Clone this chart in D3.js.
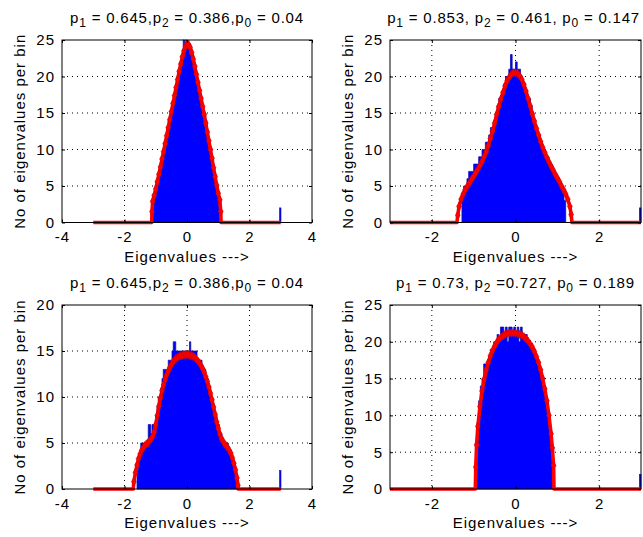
<!DOCTYPE html>
<html><head><meta charset="utf-8">
<script src="https://cdn.jsdelivr.net/npm/d3@7"></script>
<style>
body{margin:0;background:#fff;}
svg text{font-family:"Liberation Sans",Arial,Helvetica,sans-serif;fill:#000;letter-spacing:1px;}
</style></head><body>
<svg id="c" width="643" height="537"></svg>
<script>
// ---------------- DATA ----------------
const titles = [
  "p_1 = 0.645,p_2 = 0.386,p_0 = 0.04",
  "p_1 = 0.853, p_2 = 0.461, p_0 = 0.147",
  "p_1 = 0.645,p_2 = 0.386,p_0 = 0.04",
  "p_1 = 0.73, p_2 =0.727, p_0 = 0.189"
];
const xLabel = "Eigenvalues --->";
const yLabel = "No of eigenvalues per bin";
const xTicksWide = [-4, -2, 0, 2, 4];
const xTicksNarrow = [-2, 0, 2];
const yTicks25 = [0, 5, 10, 15, 20, 25];
const yTicks20 = [0, 5, 10, 15, 20];
const binWidth = 0.04;

// histogram 1 (top-left)
const hist1Start = -1.12;
const hist1Counts = [3,4,4,5,6,6,8,8,9,10,11,12,12,14,14,15,16,17,18,19,19,21,21,22,23,25,24,25,
  24,24,23,23,22,21,21,20,19,18,17,17,16,15,15,14,12,11,10,9,8,7,6,5,4,3,2];
// histogram 2 (top-right)
const hist2Start = -1.28;
const hist2Counts = [4,5,5,6,7,7,7,8,8,8,9,9,10,10,11,11,12,13,13,14,15,16,17,17,18,19,20,20,21,23,21,21,
  22,21,21,20,19,19,18,17,17,16,15,14,13,12,12,11,10,10,9,9,8,8,7,7,6,6,5,5,4,3];
// histogram 3 (bottom-left)
const hist3Start = -1.60;
const hist3Counts = [2,3,4,5,5,5,5,5,5,7,7,6,7,7,7,8,9,10,10,11,12,13,13,13,13,14,14,14,15,16,16,15,15,15,15,15,15,15,15,15,
  15,15,16,15,15,15,15,15,14,14,14,14,13,13,13,12,12,11,11,10,9,9,8,8,7,7,6,6,5,5,5,5,5,4,4,4,3,3,2,1];
// histogram 4 (bottom-right)
const hist4Start = -0.96;
const hist4Counts = [4,9,12,14,15,17,17,17,18,19,19,20,20,21,20,22,22,21,22,20,22,22,21,22,
  21,22,20,22,21,21,21,20,20,19,19,19,18,17,16,15,14,13,12,10,8,6,3];
// isolated outlier bin near x = 3 (one per panel)
const outlierX = [2.98, 2.98, 2.98, 2.98];
const outlierCount = [2, 2, 2, 2];

// fitted density curves [x, y]
const curve1 = [[-3,0],[-1.13,0],[-1.12,1.5],[-1.10,2.9],[-1.05,3.7],[-1.00,4.6],[-0.95,5.6],[-0.90,6.6],[-0.85,7.6],
  [-0.80,8.7],[-0.75,9.7],[-0.70,10.8],[-0.65,11.9],[-0.60,13.0],[-0.55,14.1],[-0.50,15.2],[-0.45,16.3],[-0.40,17.4],
  [-0.35,18.5],[-0.30,19.6],[-0.25,20.7],[-0.20,21.7],[-0.15,22.7],[-0.10,23.5],[-0.05,24.1],[0.00,24.4],[0.05,24.4],
  [0.10,24.0],[0.15,23.3],[0.20,22.4],[0.25,21.4],[0.30,20.3],[0.35,19.2],[0.40,18.1],[0.45,17.0],[0.50,15.9],
  [0.55,14.8],[0.60,13.6],[0.65,12.4],[0.70,11.2],[0.75,10.0],[0.80,8.8],[0.85,7.5],[0.90,6.3],[0.95,5.1],
  [1.00,4.0],[1.05,3.1],[1.08,1.5],[1.09,0],[3,0]];
const curve2 = [[-3,0],[-1.40,0],[-1.38,1.0],[-1.35,2.2],[-1.30,3.2],[-1.25,3.9],[-1.20,4.5],[-1.15,5.0],[-1.10,5.4],
  [-1.05,5.9],[-1.00,6.3],[-0.95,6.8],[-0.90,7.3],[-0.85,7.8],[-0.80,8.4],[-0.75,9.0],[-0.70,9.7],[-0.65,10.5],
  [-0.60,11.5],[-0.55,12.5],[-0.50,13.6],[-0.45,14.8],[-0.40,15.9],[-0.35,16.9],[-0.30,17.8],[-0.25,18.7],[-0.20,19.4],
  [-0.15,19.9],[-0.10,20.3],[-0.05,20.5],[0.00,20.5],[0.05,20.4],[0.10,20.1],[0.15,19.6],[0.20,18.9],[0.25,18.0],
  [0.30,17.0],[0.35,16.0],[0.40,14.9],[0.45,13.9],[0.50,12.9],[0.55,12.0],[0.60,11.1],[0.65,10.3],[0.70,9.6],
  [0.75,8.9],[0.80,8.3],[0.85,7.7],[0.90,7.2],[0.95,6.6],[1.00,6.1],[1.05,5.6],[1.10,5.0],[1.15,4.5],[1.20,3.9],
  [1.25,3.2],[1.30,2.2],[1.33,1.1],[1.35,0],[3,0]];
const curve3 = [[-3,0],[-1.72,0],[-1.70,0.8],[-1.65,1.8],[-1.60,2.6],[-1.55,3.3],[-1.50,3.8],[-1.45,4.2],[-1.40,4.5],
  [-1.35,4.7],[-1.30,4.9],[-1.25,5.0],[-1.20,5.2],[-1.15,5.4],[-1.10,5.7],[-1.05,6.2],[-1.00,7.0],[-0.95,8.0],
  [-0.90,9.0],[-0.85,9.9],[-0.80,10.7],[-0.75,11.3],[-0.70,11.9],[-0.65,12.4],[-0.60,12.8],[-0.55,13.2],[-0.50,13.5],
  [-0.45,13.8],[-0.40,14.0],[-0.35,14.2],[-0.30,14.3],[-0.25,14.4],[-0.20,14.5],[-0.15,14.5],[-0.10,14.6],[-0.05,14.6],
  [0.00,14.6],[0.05,14.6],[0.10,14.5],[0.15,14.5],[0.20,14.4],[0.25,14.3],[0.30,14.1],[0.35,13.9],[0.40,13.7],
  [0.45,13.4],[0.50,13.1],[0.55,12.7],[0.60,12.2],[0.65,11.7],[0.70,11.1],[0.75,10.4],[0.80,9.7],[0.85,8.9],
  [0.90,8.1],[0.95,7.3],[1.00,6.6],[1.05,6.0],[1.10,5.5],[1.15,5.2],[1.20,4.9],[1.25,4.7],[1.30,4.5],[1.35,4.2],
  [1.40,3.9],[1.45,3.4],[1.50,2.8],[1.55,2.1],[1.60,1.2],[1.63,0.4],[1.64,0],[3,0]];
const curve4 = [[-3,0],[-0.96,0],[-0.95,3.0],[-0.93,6.0],[-0.90,8.5],[-0.85,11.2],[-0.80,13.3],[-0.75,14.9],[-0.70,16.2],
  [-0.65,17.2],[-0.60,18.1],[-0.55,18.8],[-0.50,19.4],[-0.45,19.9],[-0.40,20.3],[-0.35,20.6],[-0.30,20.8],[-0.25,21.0],
  [-0.20,21.1],[-0.15,21.2],[-0.10,21.2],[-0.05,21.2],[0.00,21.2],[0.05,21.1],[0.10,21.0],[0.15,20.9],[0.20,20.7],
  [0.25,20.4],[0.30,20.1],[0.35,19.7],[0.40,19.3],[0.45,18.7],[0.50,18.0],[0.55,17.2],[0.60,16.2],[0.65,15.0],
  [0.70,13.6],[0.75,12.0],[0.80,10.0],[0.85,7.5],[0.88,5.6],[0.91,3.2],[0.92,0],[3,0]];

// ---------------- LAYOUT ----------------
const panels = [
  {left:62,  top:40,  w:250, h:182.5, xd:[-4,4], xt:xTicksWide,   yd:[0,25], yt:yTicks25, hs:hist1Start, hc:hist1Counts, cv:curve1},
  {left:390, top:40,  w:251, h:182.5, xd:[-3,3], xt:xTicksNarrow, yd:[0,25], yt:yTicks25, hs:hist2Start, hc:hist2Counts, cv:curve2},
  {left:62,  top:305, w:250, h:184,   xd:[-4,4], xt:xTicksWide,   yd:[0,20], yt:yTicks20, hs:hist3Start, hc:hist3Counts, cv:curve3},
  {left:390, top:305, w:251, h:184,   xd:[-3,3], xt:xTicksNarrow, yd:[0,25], yt:yTicks25, hs:hist4Start, hc:hist4Counts, cv:curve4}
];

const svg = d3.select("#c");

function drawTitle(g, str, cx, baseY){
  const t = g.append("text").attr("x", cx).attr("y", baseY)
    .attr("text-anchor","middle").style("font-size","15px").style("letter-spacing","0.8px");
  const parts = str.split(/(_\d)/).filter(s => s.length);
  let down = false;
  parts.forEach(s => {
    if (s[0] === "_") {
      t.append("tspan").attr("dy", 4).style("font-size","12px").text(s.slice(1));
      down = true;
    } else {
      t.append("tspan").attr("dy", down ? -4 : 0).text(s);
      down = false;
    }
  });
  // keep inside the picture
  const bb = t.node().getBBox();
  if (bb.x + bb.width > 640) t.attr("x", cx - (bb.x + bb.width - 640));
}

panels.forEach((p, i) => {
  const g = svg.append("g");
  const x = d3.scaleLinear().domain(p.xd).range([p.left, p.left + p.w]);
  const y = d3.scaleLinear().domain(p.yd).range([p.top + p.h, p.top]);
  const bottom = p.top + p.h;

  g.append("rect").attr("x", p.left).attr("y", p.top).attr("width", p.w).attr("height", p.h)
    .attr("fill", "#fff");

  // dotted grid
  const gx = p.xt.filter(v => v > p.xd[0] && v < p.xd[1]);
  const gy = p.yt.filter(v => v > p.yd[0] && v < p.yd[1]);
  g.selectAll(".gx").data(gx).join("line")
    .attr("x1", d => x(d)).attr("x2", d => x(d)).attr("y1", p.top).attr("y2", bottom)
    .attr("stroke", "#000").attr("stroke-width", 1).attr("stroke-dasharray", "1,4");
  g.selectAll(".gy").data(gy).join("line")
    .attr("x1", p.left).attr("x2", p.left + p.w).attr("y1", d => y(d)).attr("y2", d => y(d))
    .attr("stroke", "#000").attr("stroke-width", 1).attr("stroke-dasharray", "1,4");

  // histogram as a step area
  const pts = [[p.hs, 0]];
  p.hc.forEach((c, k) => {
    const x0 = p.hs + k * binWidth;
    pts.push([x0, c], [x0 + binWidth, c]);
  });
  pts.push([p.hs + p.hc.length * binWidth, 0]);
  const lineGen = d3.line().x(d => x(d[0])).y(d => y(d[1]));
  g.append("path").attr("d", lineGen(pts) + "Z").attr("fill", "#0000ff").attr("stroke", "#1010b0")
    .attr("stroke-width", 0.8);

  // outlier bin
  const ox = outlierX[i], oc = outlierCount[i];
  g.append("rect").attr("x", x(ox - binWidth / 2)).attr("y", y(oc))
    .attr("width", Math.max(1.5, x(ox + binWidth / 2) - x(ox - binWidth / 2)))
    .attr("height", y(0) - y(oc)).attr("fill", "#0000ff").attr("stroke", "#1010b0").attr("stroke-width", 0.6);

  // fitted curve
  g.append("path").attr("d", lineGen(p.cv)).attr("fill", "none").attr("stroke", "#ff0000")
    .attr("stroke-width", 3.6).attr("stroke-linejoin", "round");
  const sym = d3.symbol().type(d3.symbolDiamond).size(20);
  g.selectAll(".mk").data(p.cv.filter(d => d[1] > 0)).join("path")
    .attr("transform", d => `translate(${x(d[0])},${y(d[1])})`)
    .attr("d", sym).attr("fill", "#ff0000").attr("stroke", "#d00000").attr("stroke-width", 0.6);

  // axes (ticks inward, box)
  const fmt = d => String(d);
  const ax = g.append("g").attr("transform", `translate(0,${bottom})`)
    .call(d3.axisBottom(x).tickValues(p.xt).tickSize(-3).tickPadding(9).tickFormat(fmt));
  const ay = g.append("g").attr("transform", `translate(${p.left},0)`)
    .call(d3.axisLeft(y).tickValues(p.yt).tickSize(-3).tickPadding(7).tickFormat(fmt));
  const at = g.append("g").attr("transform", `translate(0,${p.top})`)
    .call(d3.axisTop(x).tickValues(p.xt).tickSize(-3).tickFormat(""));
  const ar = g.append("g").attr("transform", `translate(${p.left + p.w},0)`)
    .call(d3.axisRight(y).tickValues(p.yt).tickSize(-3).tickFormat(""));
  [ax, ay, at, ar].forEach(a => {
    a.select(".domain").remove();
    a.selectAll("line").attr("stroke", "#000");
    a.selectAll("text").attr("font-family", null).style("font-size", "15px").attr("fill", "#000");
  });
  g.append("rect").attr("x", p.left).attr("y", p.top).attr("width", p.w).attr("height", p.h)
    .attr("fill", "none").attr("stroke", "#000").attr("stroke-width", 1);

  // labels
  const cx = p.left + p.w / 2;
  drawTitle(g, titles[i], cx, p.top - 17);
  g.append("text").attr("x", cx).attr("y", bottom + 34).attr("dy", "0.35em")
    .attr("text-anchor", "middle").style("font-size", "15px").text(xLabel);
  g.append("text").attr("transform", `translate(${p.left - 42},${p.top + p.h / 2}) rotate(-90)`)
    .attr("dy", "0.35em").attr("text-anchor", "middle").style("font-size", "15px").text(yLabel);
});
</script>
</body></html>
